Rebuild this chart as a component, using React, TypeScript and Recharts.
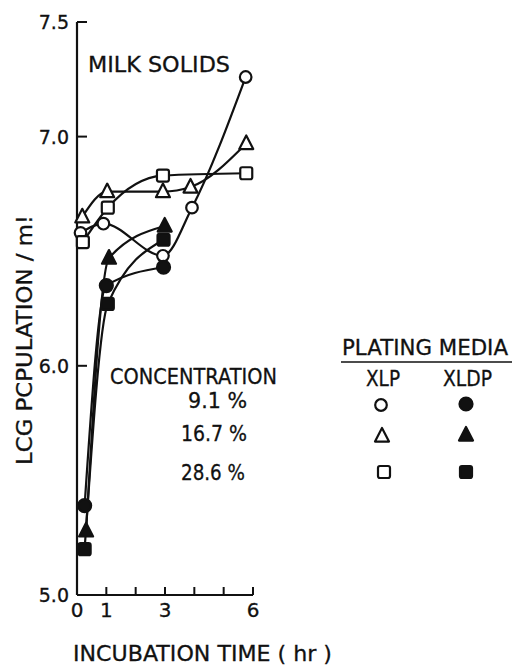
import React from "react";
import { LineChart, Line, XAxis, YAxis } from "recharts";

// incubation time (hr) and log count for each medium / concentration
const xlpLowHours = [0.12, 0.9, 2.93, 3.92, 5.75];
const xlpLowLog = [6.58, 6.62, 6.48, 6.69, 7.26];
const xlpMidHours = [0.18, 1.03, 2.93, 3.87, 5.77];
const xlpMidLog = [6.65, 6.76, 6.76, 6.78, 6.97];
const xlpHighHours = [0.2, 1.05, 2.93, 5.77];
const xlpHighLog = [6.54, 6.69, 6.83, 6.84];

const xldpLowHours = [0.26, 1.0, 2.95];
const xldpLowLog = [5.39, 6.35, 6.43];
const xldpMidHours = [0.31, 1.09, 2.99];
const xldpMidLog = [5.28, 6.47, 6.61];
const xldpHighHours = [0.26, 1.05, 2.95];
const xldpHighLog = [5.2, 6.27, 6.55];

const xTicks = [0, 1, 2, 3, 4, 5, 6];
const xTickLabels = ["0", "1", "", "3", "", "", "6"];
const yTicks = [5, 6, 7, 7.5];
const concentrations = ["9.1 %", "16.7 %", "28.6 %"];

const FONT = "'DejaVu Sans', sans-serif";

function toPoints(hours: number[], logs: number[]) {
    return hours.map((t, i) => ({ t, v: logs[i] }));
}

type Shape = "circle" | "triangle" | "square";

function Marker({ cx, cy, shape, filled }: { cx: number; cy: number; shape: Shape; filled: boolean }) {
    const fill = filled ? "#111" : "#fff";
    if (shape === "circle") {
        return <circle cx={cx} cy={cy} r={filled ? 6.5 : 5.8} fill={fill} stroke="#111" strokeWidth={2.2} />;
    }
    if (shape === "triangle") {
        const s = 7;
        return (
            <polygon
                points={`${cx},${cy - s - 1} ${cx + s},${cy + s * 0.8} ${cx - s},${cy + s * 0.8}`}
                fill={fill}
                stroke="#111"
                strokeWidth={2.2}
                strokeLinejoin="round"
            />
        );
    }
    return <rect x={cx - 6} y={cy - 6} width={12} height={12} rx={2} fill={fill} stroke="#111" strokeWidth={2.2} />;
}

const YTick = (props: any) => {
    const { x, y, payload } = props;
    return (
        <g>
            <line x1={x + 8} y1={y} x2={x + 18} y2={y} stroke="#111" strokeWidth={2} />
            <text x={x} y={y + 7} textAnchor="end" fontFamily={FONT} fontSize={19} fill="#111" stroke="#111" strokeWidth={0.3}>
                {payload.value.toFixed(1)}
            </text>
        </g>
    );
};

const XTick = (props: any) => {
    const { x, y, index } = props;
    return (
        <g>
            <line x1={x} y1={y - 6} x2={x} y2={y - 14} stroke="#111" strokeWidth={2} />
            <text x={x} y={y + 16} textAnchor="middle" fontFamily={FONT} fontSize={20} fill="#111" stroke="#111" strokeWidth={0.3}>
                {xTickLabels[index]}
            </text>
        </g>
    );
};

const series: { name: string; hours: number[]; logs: number[]; shape: Shape; filled: boolean }[] = [
    { name: "XLP 9.1", hours: xlpLowHours, logs: xlpLowLog, shape: "circle", filled: false },
    { name: "XLP 16.7", hours: xlpMidHours, logs: xlpMidLog, shape: "triangle", filled: false },
    { name: "XLP 28.6", hours: xlpHighHours, logs: xlpHighLog, shape: "square", filled: false },
    { name: "XLDP 9.1", hours: xldpLowHours, logs: xldpLowLog, shape: "circle", filled: true },
    { name: "XLDP 16.7", hours: xldpMidHours, logs: xldpMidLog, shape: "triangle", filled: true },
    { name: "XLDP 28.6", hours: xldpHighHours, logs: xldpHighLog, shape: "square", filled: true },
];

export default function App() {
    const txt = {
        fontFamily: FONT,
        fontSize: 21,
        fill: "#111",
        stroke: "#111",
        strokeWidth: 0.3,
        lengthAdjust: "spacingAndGlyphs" as const,
    };
    return (
        <div style={{ position: "absolute", left: 0, top: 0, width: 512, height: 665, background: "#fff" }}>
            <LineChart width={512} height={665} margin={{ top: 22, right: 259, bottom: 40, left: 17 }}>
                <XAxis
                    type="number"
                    dataKey="t"
                    domain={[0, 6]}
                    ticks={xTicks}
                    interval={0}
                    height={30}
                    tickSize={0}
                    tickMargin={6}
                    tickLine={false}
                    axisLine={{ stroke: "#111", strokeWidth: 2.2 }}
                    tick={<XTick />}
                />
                <YAxis
                    type="number"
                    dataKey="v"
                    domain={[5, 7.5]}
                    ticks={yTicks}
                    interval={0}
                    width={60}
                    tickSize={0}
                    tickMargin={8}
                    tickLine={false}
                    axisLine={{ stroke: "#111", strokeWidth: 2.2 }}
                    tick={<YTick />}
                />
                {series.map((s) => (
                    <Line
                        key={s.name}
                        name={s.name}
                        data={toPoints(s.hours, s.logs)}
                        dataKey="v"
                        type="monotone"
                        stroke="#111"
                        strokeWidth={2.2}
                        isAnimationActive={false}
                        dot={(p: any) => <Marker key={p.index} cx={p.cx} cy={p.cy} shape={s.shape} filled={s.filled} />}
                        activeDot={false}
                    />
                ))}
            </LineChart>
            <svg width={512} height={665} style={{ position: "absolute", left: 0, top: 0, pointerEvents: "none" }}>
                <text x={88} y={72} textLength={142} {...txt}>MILK SOLIDS</text>
                <text x={110} y={384} textLength={167} {...txt}>CONCENTRATION</text>
                <text x={188} y={408} textLength={59} {...txt}>{concentrations[0]}</text>
                <text x={181} y={441} textLength={66} {...txt}>{concentrations[1]}</text>
                <text x={181} y={480} textLength={64} {...txt}>{concentrations[2]}</text>
                <text x={342} y={355} textLength={166} {...txt}>PLATING MEDIA</text>
                <line x1={341} y1={362} x2={512} y2={362} stroke="#111" strokeWidth={1.5} />
                <text x={366} y={386} textLength={34} {...txt}>XLP</text>
                <text x={443} y={386} textLength={49} {...txt}>XLDP</text>
                <Marker cx={381} cy={405} shape="circle" filled={false} />
                <Marker cx={466} cy={404} shape="circle" filled />
                <Marker cx={382} cy={436} shape="triangle" filled={false} />
                <Marker cx={466} cy={435} shape="triangle" filled />
                <Marker cx={384} cy={472} shape="square" filled={false} />
                <Marker cx={466} cy={472} shape="square" filled />
                <text x={73} y={661} textLength={259} {...txt}>INCUBATION TIME ( hr )</text>
                <text
                    transform="translate(32 340) rotate(-90)"
                    x={-125}
                    y={0}
                    textLength={250}
                    {...txt}
                >
                    LCG PCPULATION / m!
                </text>
            </svg>
        </div>
    );
}
